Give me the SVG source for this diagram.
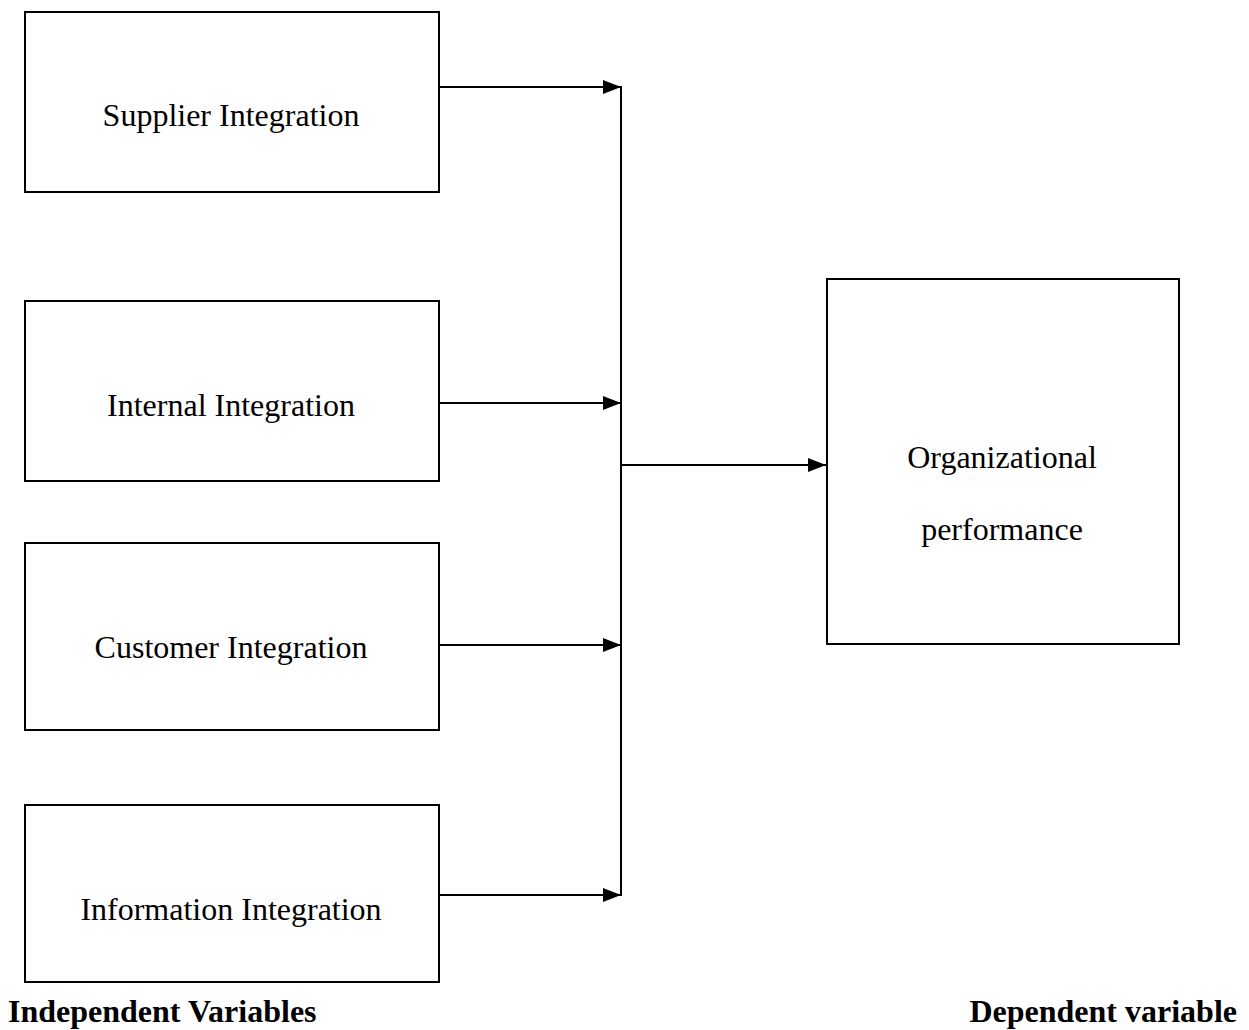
<svg xmlns="http://www.w3.org/2000/svg" width="1249" height="1030" viewBox="0 0 1249 1030">
<style>
.box{fill:#fff;stroke:#000;stroke-width:2}
.t{font-family:"Liberation Serif","Times New Roman",serif;font-size:32px;fill:#000;text-anchor:middle}
.b{font-family:"Liberation Serif","Times New Roman",serif;font-size:32px;font-weight:bold;fill:#000}
.c{stroke:#000;stroke-width:2;fill:none}
</style>
<defs>
<marker id="ah2" markerWidth="18" markerHeight="14" refX="18" refY="7" orient="auto" markerUnits="userSpaceOnUse" viewBox="0 0 18 14">
<path d="M0,0 L18,7 L0,14 Z" fill="#000"/>
</marker>
</defs>
<rect width="1249" height="1030" fill="#fff"/>
<g id="supplier"><rect class="box" x="25" y="12" width="414" height="180"/><text class="t" x="231" y="126">Supplier Integration</text></g>
<g id="internal"><rect class="box" x="25" y="301" width="414" height="180"/><text class="t" x="231" y="416">Internal Integration</text></g>
<g id="customer"><rect class="box" x="25" y="543" width="414" height="187"/><text class="t" x="231" y="658">Customer Integration</text></g>
<g id="information"><rect class="box" x="25" y="805" width="414" height="177"/><text class="t" x="231" y="920">Information Integration</text></g>
<g id="performance"><rect class="box" x="827" y="279" width="352" height="365"/><text class="t" x="1002" y="468">Organizational</text><text class="t" x="1002" y="540">performance</text></g>
<g id="connectors">
<line class="c" x1="621" y1="86" x2="621" y2="896"/>
<line class="c" x1="439" y1="87" x2="621" y2="87" marker-end="url(#ah2)"/>
<line class="c" x1="439" y1="403" x2="621" y2="403" marker-end="url(#ah2)"/>
<line class="c" x1="439" y1="645" x2="621" y2="645" marker-end="url(#ah2)"/>
<line class="c" x1="439" y1="895" x2="621" y2="895" marker-end="url(#ah2)"/>
<line class="c" x1="621" y1="465" x2="826" y2="465" marker-end="url(#ah2)"/>
</g>
<text class="b" x="8" y="1022">Independent Variables</text>
<text class="b" x="1237" y="1022" text-anchor="end">Dependent variable</text>
</svg>
